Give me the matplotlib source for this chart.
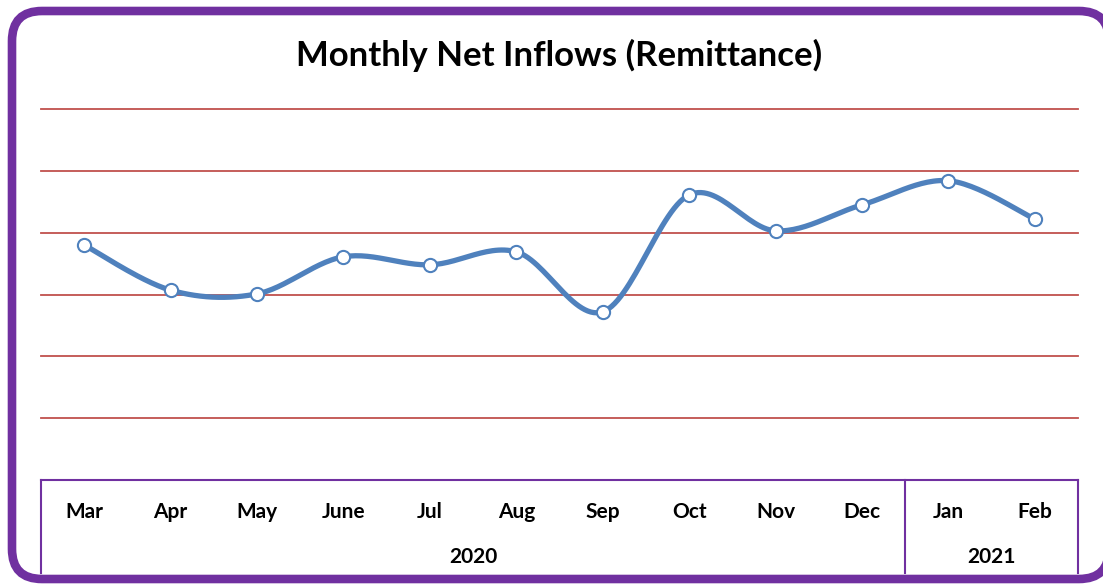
"""
Monthly net inflows (remittance) line chart, Excel-style.
"""
import numpy as np
import matplotlib
matplotlib.use("Agg")
import matplotlib.pyplot as plt
from matplotlib.patches import FancyBboxPatch

months = ["Mar", "Apr", "May", "June", "Jul", "Aug", "Sep", "Oct", "Nov", "Dec", "Jan", "Feb"]
inflows = [3.80, 3.07, 3.01, 3.61, 3.48, 3.69, 2.72, 4.61, 4.03, 4.45, 4.84, 4.22]
years = ["2020", "2021"]
year_counts = [10, 2]

PURPLE = "#7030A0"
RED = "#C0504D"
BLUE = "#4F81BD"


def smooth_curve(x, y, steps=30):
    # Excel-like smoothing: cubic Bezier with Catmull-Rom control points
    x = np.asarray(x, float)
    y = np.asarray(y, float)
    px = np.concatenate([[x[0]], x, [x[-1]]])
    py = np.concatenate([[y[0]], y, [y[-1]]])
    xs, ys = [], []
    t = np.linspace(0, 1, steps)
    for i in range(1, len(x)):
        p0 = np.array([px[i], py[i]])
        p3 = np.array([px[i + 1], py[i + 1]])
        c1 = p0 + (np.array([px[i + 1], py[i + 1]]) - np.array([px[i - 1], py[i - 1]])) / 6
        c2 = p3 - (np.array([px[i + 2], py[i + 2]]) - np.array([px[i], py[i]])) / 6
        pts = ((1 - t) ** 3)[:, None] * p0 + (3 * (1 - t) ** 2 * t)[:, None] * c1 \
            + (3 * (1 - t) * t ** 2)[:, None] * c2 + (t ** 3)[:, None] * p3
        xs.extend(pts[:, 0])
        ys.extend(pts[:, 1])
    return xs, ys


W, H = 1103, 587
fig = plt.figure(figsize=(W / 100, H / 100), dpi=100)

# background axes in pixel units for the rounded purple frame
bg = fig.add_axes([0, 0, 1, 1], zorder=-1)
bg.set_xlim(0, W)
bg.set_ylim(H, 0)
bg.axis("off")
frame = FancyBboxPatch((12, 11), 1097, 568, boxstyle="round,pad=0,rounding_size=30",
                       facecolor="white", edgecolor=PURPLE, linewidth=6.2)
bg.add_patch(frame)

fig.text(559 / W, 1 - 55 / H, "Monthly Net Inflows (Remittance)", ha="center", va="center",
         fontsize=25, fontweight="bold", family="Lato")

ax = fig.add_axes([41 / W, (H - 480) / H, (1078 - 41) / W, (480 - 109) / H])
ax.set_xlim(0, 12)
ax.set_ylim(0, 6)
ax.axis("off")

for g in range(1, 7):
    ax.axhline(g, color=RED, lw=1.3, clip_on=False, zorder=1)

x = np.arange(len(months)) + 0.5
sx, sy = smooth_curve(x, inflows)
ax.plot(sx, sy, color=BLUE, lw=3.8, solid_capstyle="round", zorder=3)
ax.plot(x, inflows, "o", ms=9.5, mfc="white", mec=BLUE, mew=1.5, zorder=4)

# category axis box
bottom = -1.5
ax.plot([0, 12], [0, 0], color=PURPLE, lw=1.5, clip_on=False, zorder=2)
for xv in [0, year_counts[0], 12]:
    ax.plot([xv, xv], [0, bottom], color=PURPLE, lw=1.5, clip_on=False)

for xi, m in zip(x, months):
    ax.text(xi, -0.51, m, ha="center", va="center", fontsize=15,
            fontweight="bold", family="Lato")

start = 0
for yr, n in zip(years, year_counts):
    ax.text(start + n / 2, -1.24, yr, ha="center", va="center", fontsize=15,
            fontweight="bold", family="Lato")
    start += n

fig.savefig("out.png", dpi=100)
